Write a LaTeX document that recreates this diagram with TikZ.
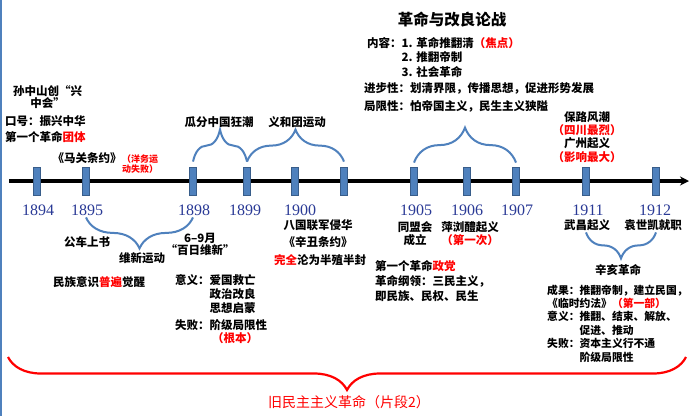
\documentclass[tikz,border=0pt]{standalone}
\usepackage{fontspec}
\setmainfont{Noto Sans CJK SC}
\newfontfamily\yearfont{Liberation Serif}
\usepackage{tikz}
\usetikzlibrary{arrows.meta,decorations.pathreplacing}
\definecolor{barblue}{HTML}{4F81BD}
\definecolor{baredge}{HTML}{385D8A}
\definecolor{yearblue}{HTML}{2A3A96}
\newcommand{\hong}[1]{\textcolor{red}{#1}}

\begin{document}
\begin{tikzpicture}[x=1pt,y=-1pt,
		yearbar/.style={rectangle,fill=barblue,draw=baredge,line width=0.8pt,minimum width=7pt,minimum height=28pt,inner sep=0pt},
		yeartxt/.style={font=\fontsize{16}{16}\selectfont\yearfont,text=yearblue,inner sep=0pt},
		txt/.style={font=\fontsize{11.5}{14}\selectfont\bfseries,inner sep=0pt,align=center},
		bluebrace/.style={draw=barblue,line width=2pt,decorate,decoration={brace,amplitude=#1}},
		redbrace/.style={draw=red,line width=2.2pt,decorate,decoration={brace,amplitude=#1}}]
		\useasboundingbox (0,0) rectangle (690,416);
		\fill[white] (0,0) rectangle (690,416);
		\draw[barblue,line width=2pt] (1,0) -- (1,416);
		\coordinate (tlstart) at (9,181);
		\coordinate (tlend) at (689,181);
		\draw[line width=4pt,-{Stealth[length=9pt,width=9pt]}] (tlstart) -- (tlend);
		\foreach \yr/\x in {1894/37,1895/86,1898/193,1899/247,1900/295,1901/344,1905/414,1906/467,1907/516,1911/586,1912/656}
			\node[yearbar] (t\yr) at (\x,181) {};
		\foreach \yr/\x in {1894/38,1895/87,1898/194,1899/245,1900/300,1905/416,1906/467,1907/517,1911/588,1912/655}
			\node[yeartxt] (y\yr) at (\x,210) {\yr};
		\draw[bluebrace=32pt] ([yshift=5pt]t1898.north) -- ([yshift=5pt]t1899.north);
		\draw[bluebrace=32pt] ([yshift=5pt]t1899.north) -- ([yshift=5pt]t1901.north);
		\draw[bluebrace=35pt] ([yshift=4pt]t1905.north) -- ([yshift=4pt]t1907.north);
		\draw[bluebrace=31pt] ([yshift=-22pt]t1898.south) -- ([yshift=-22pt]t1895.south);
		\draw[bluebrace=26pt] ([yshift=-37pt]t1912.south) -- ([yshift=-37pt]t1911.south);
		\coordinate (rl) at (8,357);
		\coordinate (rr) at (686,357);
		\draw[redbrace=33pt] (rr) -- (rl);
		\node[font=\fontsize{14}{14}\selectfont,text=red,inner sep=0pt] (jiumin) at (349,402) {旧民主主义革命（片段2）};
		\node[txt,font=\fontsize{11.5}{12}\selectfont\bfseries] (sun) at (47.5,97) {孙中山创“兴\\中会”};
		\node[txt,anchor=west,align=left,font=\fontsize{11.5}{16}\selectfont\bfseries] (kouhao) at (5,129) {口号：振兴中华\\第一个革命\hong{团体}};
		\node[txt] (maguan) at (87,158) {《马关条约》};
		\node[txt,anchor=west,align=left,text=red,font=\fontsize{9}{10.5}\selectfont\bfseries] (yangwu) at (122,164) {（洋务运\\动失败）};
		\node[txt] (guafen) at (219,122) {瓜分中国狂潮};
		\node[txt] (yihe) at (297,122) {义和团运动};
		\node[txt,font=\fontsize{15.5}{16}\selectfont\bfseries] (lunzhan) at (452,20) {革命与改良论战};
		\node[txt,anchor=west,align=left,font=\fontsize{11.5}{14.5}\selectfont\bfseries] (neirong) at (367,57.5) {内容：1. 革命推翻清\hong{（焦点）}\\\phantom{内容：}2. 推翻帝制\\\phantom{内容：}3. 社会革命};
		\node[txt,anchor=west,align=left,font=\fontsize{11.5}{18}\selectfont\bfseries] (jinbu) at (364,97) {进步性：划清界限，传播思想，促进形势发展\\局限性：怕帝国主义，民生主义狭隘};
		\node[txt,font=\fontsize{11.5}{13.3}\selectfont\bfseries] (baolu) at (587,137) {保路风潮\\\hong{（四川最烈）}\\广州起义\\\hong{（影响最大）}};
		\node[txt] (gongche) at (87,242) {公车上书};
		\node[txt] (weixin) at (142,258) {维新运动};
		\node[txt,font=\fontsize{11.5}{12}\selectfont\bfseries] (bairi) at (200,244) {6–9月\\“百日维新”};
		\node[txt] (minzu) at (99,282) {民族意识\hong{普遍}觉醒};
		\node[txt,anchor=west,align=left] (yiyi) at (175,294) {意义：爱国救亡\\\phantom{意义：}政治改良\\\phantom{意义：}思想启蒙};
		\node[txt,anchor=west] (shibai) at (175,325) {失败：阶级局限性};
		\node[txt,text=red] (genben) at (235,338) {（根本）};
		\node[txt,font=\fontsize{11.5}{16.7}\selectfont\bfseries] (baguo) at (318,233.5) {八国联军侵华\\《辛丑条约》};
		\node[txt] (wanquan) at (320,260) {\hong{完全}沦为半殖半封};
		\node[txt,font=\fontsize{11.5}{13}\selectfont\bfseries] (tongmeng) at (415,233.5) {同盟会\\成立};
		\node[txt,font=\fontsize{11.5}{13}\selectfont\bfseries] (pingliu) at (470,233.5) {萍浏醴起义\\\hong{（第一次）}};
		\node[txt,anchor=west,align=left,font=\fontsize{11.5}{15}\selectfont\bfseries] (zhengdang) at (375,281) {第一个革命\hong{政党}\\革命纲领：三民主义，\\即民族、民权、民生};
		\node[txt] (wuchang) at (587,225) {武昌起义};
		\node[txt] (yuan) at (653,225) {袁世凯就职};
		\node[txt] (xinhai) at (618,270) {辛亥革命};
		\node[txt,anchor=west,align=left,font=\fontsize{10.8}{13.4}\selectfont\bfseries] (chengguo) at (547,323.5) {成果：推翻帝制，建立民国，\\《临时约法》\hong{（第一部）}\\意义：推翻、结束、解放、\\\phantom{意义：}促进、推动\\失败：资本主义行不通\\\phantom{失败：}阶级局限性};
\end{tikzpicture}
\end{document}
